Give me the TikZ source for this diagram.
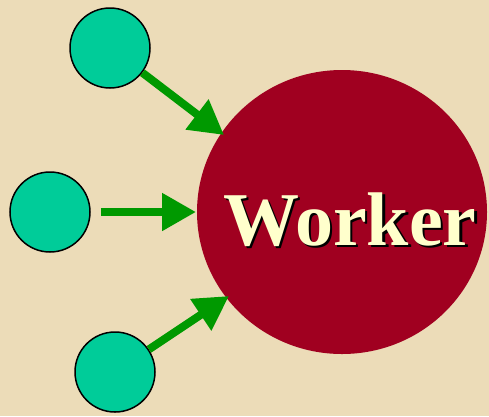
\documentclass[tikz,border=0pt]{standalone}
\usepackage{fontspec}
\setmainfont{Liberation Serif}
\usetikzlibrary{arrows.meta,shapes.geometric}
\definecolor{bgc}{RGB}{236,220,184}
\definecolor{teal}{RGB}{0,204,153}
\definecolor{wine}{RGB}{160,0,32}
\definecolor{arrgreen}{RGB}{0,153,0}
\definecolor{txt}{RGB}{255,255,204}
\tikzset{
  src/.style={circle,draw=black,line width=1.5pt,fill=teal,minimum size=80pt,inner sep=0pt},
  feed/.style={arrgreen,line width=8pt,-{Triangle[length=34pt,width=36pt]}},
  lbl/.style={font=\fontsize{76}{82}\selectfont\bfseries,anchor=base,inner sep=0pt}
}
\begin{document}
\begin{tikzpicture}[x=1pt,y=1pt]
\fill[bgc] (0,0) rectangle (489,-416);
\useasboundingbox (0,0) rectangle (489,-416);
\node[ellipse,fill=wine,minimum width=290pt,minimum height=284pt,inner sep=0pt] (w) at (342,-212) {};
\node[src] (t) at (110,-48) {};
\node[src] (m) at (50,-212) {};
\node[src] (b) at (115,-372) {};
\coordinate (tt) at (224,-135);
\coordinate (mt) at (196,-212);
\coordinate (bt) at (229,-296);
\draw[feed] (t) -- (tt);
\draw[feed,shorten <=10pt] (m) -- (mt);
\draw[feed] (b) -- (bt);
\node[lbl,black] (ws) at (352.5,-247.5) {Worker};
\node[lbl,txt] (wt) at (350,-245) {Worker};
\end{tikzpicture}
\end{document}
